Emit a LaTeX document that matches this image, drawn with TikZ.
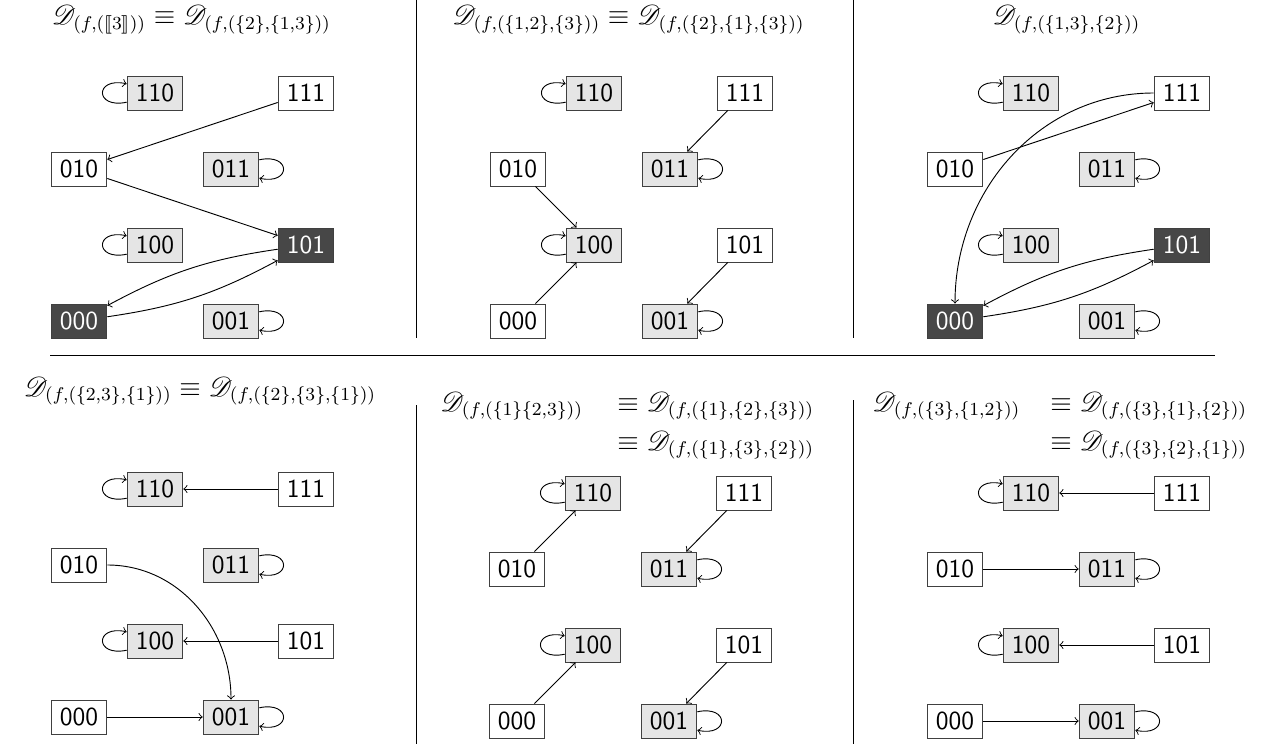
\documentclass[tikz,border=0pt]{standalone}
\usepackage{amsmath,amssymb}
\usepackage{mathrsfs}
\usepackage{stmaryrd}
\tikzset{
  st/.style={draw=black!75, minimum width=24.2pt, minimum height=14.8pt, inner sep=0pt, font=\fontsize{11.3}{13}\selectfont\sffamily},
  wh/.style={st, fill=white},
  gr/.style={st, fill=black!10},
  dk/.style={st, fill=black!72, text=white},
  ttl/.style={inner sep=0pt, font=\fontsize{12}{14}\selectfont},
  rule/.style={line width=0.4pt},
}
\newcommand\mkpanel[7]{%
  \begin{scope}[shift={(#2,#3)}]
    \node[gr] (#1110) at (155,-93) {110};
    \node[#4] (#1111) at (306,-93) {111};
    \node[#5] (#1010) at (79,-169) {010};
    \node[gr] (#1011) at (231,-169) {011};
    \node[gr] (#1100) at (155,-245) {100};
    \node[#6] (#1101) at (306,-245) {101};
    \node[#7] (#1000) at (79,-321) {000};
    \node[gr] (#1001) at (231,-321) {001};
  \end{scope}
  \draw[->] ([yshift=-4pt]#1110.west) .. controls +(-14pt,-3pt) and +(-14pt,3pt) .. ([yshift=4pt]#1110.west);
  \draw[->] ([yshift=-4pt]#1100.west) .. controls +(-14pt,-3pt) and +(-14pt,3pt) .. ([yshift=4pt]#1100.west);
  \draw[->] ([yshift=4pt]#1011.east) .. controls +(14pt,3pt) and +(14pt,-3pt) .. ([yshift=-4pt]#1011.east);
  \draw[->] ([yshift=4pt]#1001.east) .. controls +(14pt,3pt) and +(14pt,-3pt) .. ([yshift=-4pt]#1001.east);
}
\begin{document}
\begin{tikzpicture}[x=0.4348pt, y=0.4348pt]
\useasboundingbox (0,0) rectangle (1276,-744);

% separators
\draw[rule] (416,0) -- (416,-338);
\draw[rule] (853,0) -- (853,-338);
\draw[rule] (50,-355) -- (1215,-355);
\draw[rule] (416,-405) -- (416,-744);
\draw[rule] (853,-400) -- (853,-744);

% titles
\node[ttl, anchor=base] (t1) at (191.5,-25) {$\mathscr{D}_{(f,(\llbracket 3\rrbracket))}\equiv\mathscr{D}_{(f,(\{2\},\{1,3\}))}$};
\node[ttl, anchor=base] (t2) at (628.5,-25) {$\mathscr{D}_{(f,(\{1,2\},\{3\}))}\equiv\mathscr{D}_{(f,(\{2\},\{1\},\{3\}))}$};
\node[ttl, anchor=base] (t3) at (1066.5,-25) {$\mathscr{D}_{(f,(\{1,3\},\{2\}))}$};
\node[ttl, anchor=base] (t4) at (200,-396) {$\mathscr{D}_{(f,(\{2,3\},\{1\}))}\equiv\mathscr{D}_{(f,(\{2\},\{3\},\{1\}))}$};
\node[ttl, anchor=base west] (t5a) at (440,-411) {$\mathscr{D}_{(f,(\{1\}\{2,3\}))}$};
\node[ttl, anchor=base west] (t5b) at (617,-411) {$\equiv\mathscr{D}_{(f,(\{1\},\{2\},\{3\}))}$};
\node[ttl, anchor=base west] (t5c) at (617,-450) {$\equiv\mathscr{D}_{(f,(\{1\},\{3\},\{2\}))}$};
\node[ttl, anchor=base west] (t6a) at (872,-411) {$\mathscr{D}_{(f,(\{3\},\{1,2\}))}$};
\node[ttl, anchor=base west] (t6b) at (1050,-411) {$\equiv\mathscr{D}_{(f,(\{3\},\{1\},\{2\}))}$};
\node[ttl, anchor=base west] (t6c) at (1050,-450) {$\equiv\mathscr{D}_{(f,(\{3\},\{2\},\{1\}))}$};

% panel A (top-left)
\mkpanel{a}{0}{0}{wh}{wh}{dk}{dk}
\draw[->] (a111) -- (a010);
\draw[->] (a010) -- (a101);
\draw[->] (a101) to[bend right=10] (a000);
\draw[->] (a000) to[bend right=10] (a101);

% panel B (top-middle)
\mkpanel{b}{439}{0}{wh}{wh}{wh}{wh}
\draw[->] (b111) -- (b011);
\draw[->] (b010) -- (b100);
\draw[->] (b000) -- (b100);
\draw[->] (b101) -- (b001);

% panel C (top-right)
\mkpanel{c}{876}{0}{wh}{wh}{dk}{dk}
\draw[->] (c010) -- (c111);
\draw[->] (c111.west) to[out=180,in=90] (c000.north);
\draw[->] (c101) to[bend right=10] (c000);
\draw[->] (c000) to[bend right=10] (c101);

% panel D (bottom-left)
\mkpanel{d}{0}{-396}{wh}{wh}{wh}{wh}
\draw[->] (d111) -- (d110);
\draw[->] (d101) -- (d100);
\draw[->] (d000) -- (d001);
\draw[->] (d010.east) to[out=0,in=90] (d001.north);

% panel E (bottom-middle)
\mkpanel{e}{438}{-400}{wh}{wh}{wh}{wh}
\draw[->] (e010) -- (e110);
\draw[->] (e111) -- (e011);
\draw[->] (e000) -- (e100);
\draw[->] (e101) -- (e001);

% panel F (bottom-right)
\mkpanel{f}{876}{-400}{wh}{wh}{wh}{wh}
\draw[->] (f111) -- (f110);
\draw[->] (f010) -- (f011);
\draw[->] (f101) -- (f100);
\draw[->] (f000) -- (f001);
\end{tikzpicture}
\end{document}
